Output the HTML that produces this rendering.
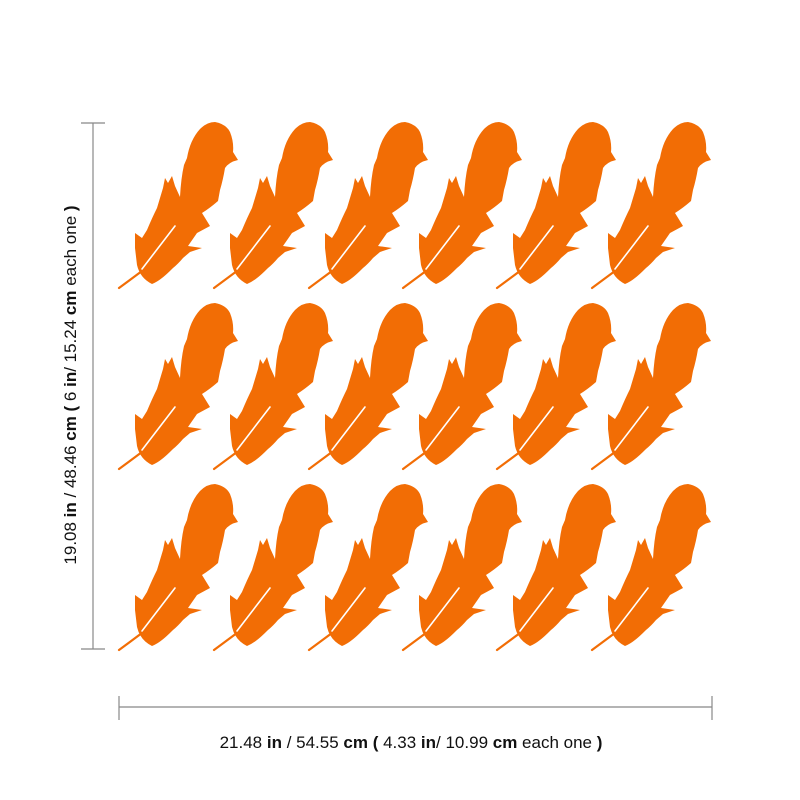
<!DOCTYPE html>
<html><head><meta charset="utf-8"><style>
html,body{margin:0;padding:0;background:#fff;width:800px;height:800px;overflow:hidden}
</style></head><body>
<svg width="800" height="800" viewBox="0 0 800 800" xmlns="http://www.w3.org/2000/svg">
<defs>
<g id="f">
<path fill="#F26D05" d="M152,284 Q140,278 137,265 L135,248 L135,233 L142,238 L147,230 Q152,218 157,208 L163,188 L165,178 L168,183 L172,176 L175,186 L180,197 Q181,178 184,165 L187,158 Q190,140 200,129 Q207,122 215,122 Q226,124 230,132 Q234,142 233,152 L238,160 Q229,162 225,168 Q223,180 220,190 L218,201 Q210,208 202,213 L210,226 L197,233 L188,246 L202,248 L190,252 L183,258 Q178,264 173,268 Q166,275 162,278 Q157,282 152,284 Z"/>
<line x1="119" y1="288" x2="146" y2="268" stroke="#F26D05" stroke-width="2.2" stroke-linecap="round"/>
<line x1="142" y1="269" x2="175" y2="226" stroke="#fff" stroke-width="1.6" stroke-linecap="round"/>
</g>
</defs>
<g>
<use href="#f" x="0" y="0"/><use href="#f" x="95" y="0"/><use href="#f" x="190" y="0"/><use href="#f" x="284" y="0"/><use href="#f" x="378" y="0"/><use href="#f" x="473" y="0"/>
<use href="#f" x="0" y="181"/><use href="#f" x="95" y="181"/><use href="#f" x="190" y="181"/><use href="#f" x="284" y="181"/><use href="#f" x="378" y="181"/><use href="#f" x="473" y="181"/>
<use href="#f" x="0" y="362"/><use href="#f" x="95" y="362"/><use href="#f" x="190" y="362"/><use href="#f" x="284" y="362"/><use href="#f" x="378" y="362"/><use href="#f" x="473" y="362"/>
</g>
<g stroke="#888" stroke-width="1.2" fill="none">
<line x1="93" y1="123" x2="93" y2="649"/>
<line x1="81" y1="123" x2="105" y2="123"/>
<line x1="81" y1="649" x2="105" y2="649"/>
<line x1="119" y1="707" x2="712" y2="707"/>
<line x1="119" y1="696" x2="119" y2="720"/>
<line x1="712" y1="696" x2="712" y2="720"/>
</g>
<g font-family="Liberation Sans, sans-serif" font-size="17" fill="#111">
<text x="411" y="748" text-anchor="middle">21.48 <tspan font-weight="bold">in</tspan> / 54.55 <tspan font-weight="bold">cm (</tspan> 4.33 <tspan font-weight="bold">in</tspan>/ 10.99 <tspan font-weight="bold">cm</tspan> each one <tspan font-weight="bold">)</tspan></text>
<text transform="translate(76,385) rotate(-90)" text-anchor="middle">19.08 <tspan font-weight="bold">in</tspan> / 48.46 <tspan font-weight="bold">cm (</tspan> 6 <tspan font-weight="bold">in</tspan>/ 15.24 <tspan font-weight="bold">cm</tspan> each one <tspan font-weight="bold">)</tspan></text>
</g>
</svg>
</body></html>
